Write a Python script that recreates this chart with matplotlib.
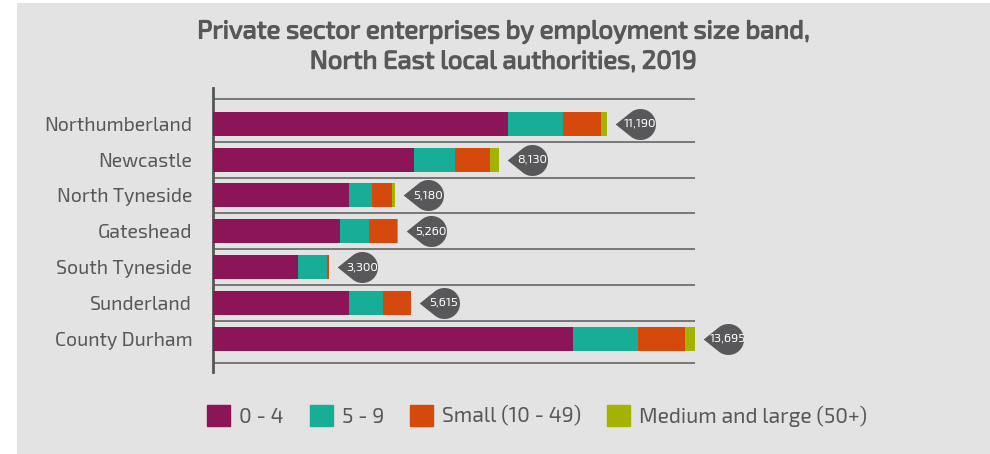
import numpy as np
import matplotlib
matplotlib.use("Agg")
import matplotlib.pyplot as plt
from matplotlib.path import Path
from matplotlib.patches import Rectangle
import matplotlib.patheffects as pe
import matplotlib.transforms as mtransforms

# ============================================
# DATA
# ============================================
areas = ["Northumberland", "Newcastle", "North Tyneside", "Gateshead",
         "South Tyneside", "Sunderland", "County Durham"]
band_0_4 = [8370, 5700, 3860, 3620, 2410, 3860, 10230]
band_5_9 = [1565, 1170, 660, 800, 835, 980, 1845]
band_small = [1080, 1000, 575, 820, 55, 775, 1335]
band_medium_large = [175, 260, 85, 20, 0, 0, 285]
totals = [11190, 8130, 5180, 5260, 3300, 5615, 13695]

band_names = ["0 - 4", "5 - 9", "Small (10 - 49)", "Medium and large (50+)"]
band_colors = ["#8B1557", "#17AD96", "#D5490C", "#A3B300"]

title = "Private sector enterprises by employment size band,\nNorth East local authorities, 2019"

TEXT = "#58585A"
BG = "#E3E3E3"
plt.rcParams["font.family"] = ["Exo 2", "Roboto Condensed", "DejaVu Sans"]

# ============================================
# FIGURE
# ============================================
W, H, DPI = 990, 454, 100
fig = plt.figure(figsize=(W / DPI, H / DPI), dpi=DPI)
fig.patch.set_facecolor("white")
fig.patches.append(Rectangle((17 / W, 0), 1, (H - 3) / H, transform=fig.transFigure,
                             facecolor=BG, edgecolor="none", zorder=-10))

ax = fig.add_axes([213 / W, 1 - 372 / H, (695 - 213) / W, (372 - 88) / H])
ax.set_facecolor("none")

y = np.arange(len(areas))
left = np.zeros(len(areas))
for vals, col in zip([band_0_4, band_5_9, band_small, band_medium_large], band_colors):
    ax.barh(y, vals, left=left, height=0.67, color=col, zorder=3)
    left += np.array(vals)

ax.set_xlim(0, max(totals))
ax.set_ylim(6.93, -1.0)

# separator lines between rows (outer ones sit a little further out)
lines_y = list(np.arange(len(areas) + 1) - 0.5)
lines_y[0] -= 0.19
lines_y[-1] += 0.19
ax.hlines(lines_y, 0, max(totals), color="#6E6E6E", lw=1.3, zorder=2)

for s in ["top", "right", "bottom"]:
    ax.spines[s].set_visible(False)
ax.spines["left"].set_color("#555555")
ax.spines["left"].set_linewidth(2)
ax.set_xticks([])
ax.set_yticks(y)
ax.set_yticklabels(areas, fontsize=14, color=TEXT)
ax.tick_params(axis="y", length=0, pad=15)

# teardrop callouts with totals
r = 1.0
tip = 1.6
a = np.arccos(r / tip)
theta = np.linspace(np.pi - a, -(np.pi - a), 80)
verts = [(-tip, 0)] + [(r * np.cos(t), r * np.sin(t)) for t in theta] + [(-tip, 0)]
drop = Path(verts, [Path.MOVETO] + [Path.LINETO] * (len(verts) - 2) + [Path.CLOSEPOLY])
drop_ms = 2 * tip * 15.5 * 72 / DPI

off = mtransforms.offset_copy(ax.transData, fig=fig, x=33, y=0, units="dots")
for yi, tot in zip(y, totals):
    ax.plot(tot, yi, marker=drop, markersize=drop_ms, color=TEXT, mec="none",
            transform=off, clip_on=False, zorder=4)
    ax.text(tot, yi, f"{tot:,}", transform=off, ha="center", va="center",
            color="white", fontsize=9, zorder=5, clip_on=False)

# Exo 2 has no bold face here, so thicken the title with a thin stroke
fig.text(503 / W, 1 - 47 / H, title, ha="center", va="center", fontsize=18.5,
         color=TEXT, linespacing=1.4,
         path_effects=[pe.withStroke(linewidth=0.9, foreground=TEXT)])

fs_leg = 15.2
fs_px = fs_leg * DPI / 72
handles = [Rectangle((0, 0), 1, 1, color=c) for c in band_colors]
fig.legend(handles, band_names, loc="center left", bbox_to_anchor=(207 / W, 1 - 416 / H),
           ncol=4, frameon=False, fontsize=fs_leg, labelcolor=TEXT, borderpad=0,
           borderaxespad=0, handlelength=23 / fs_px, handleheight=23 / fs_px,
           handletextpad=9 / fs_px, columnspacing=26 / fs_px)

fig.savefig("out.png", dpi=DPI)
